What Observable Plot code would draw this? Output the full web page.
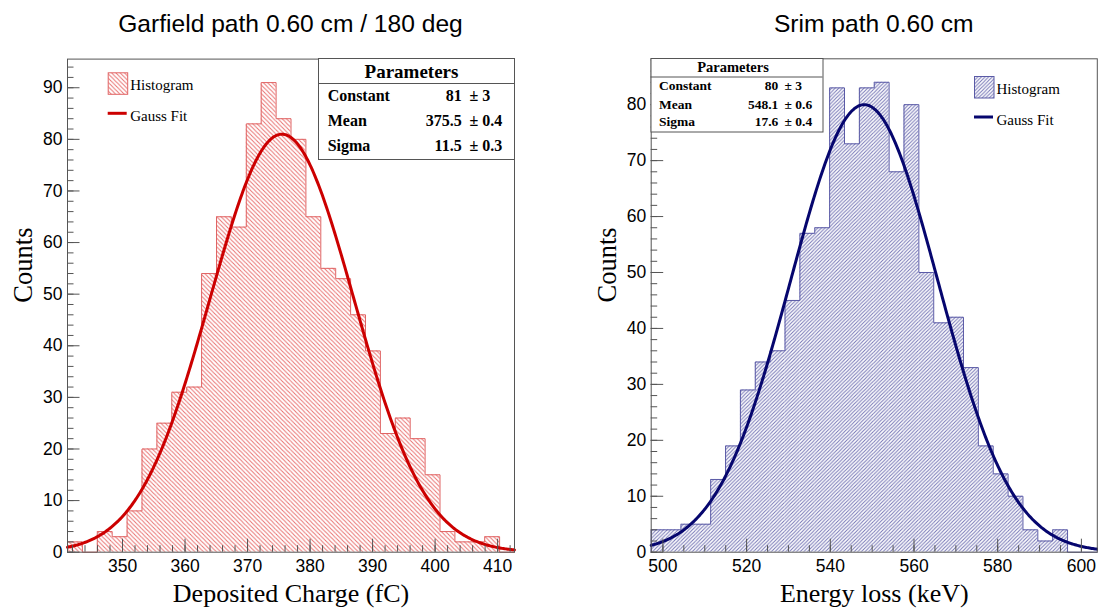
<!DOCTYPE html>
<html>
<head>
<meta charset="utf-8">
<script src="https://cdn.jsdelivr.net/npm/d3@7"></script>
<script src="https://cdn.jsdelivr.net/npm/@observablehq/plot@0.6"></script>
<style>
  html, body { margin: 0; padding: 0; background: #fff; }
  #wrap { position: relative; width: 1098px; height: 610px; overflow: hidden; background: #fff; }
  .panel { position: absolute; top: 0; }
  .panel svg { overflow: visible; }
</style>
</head>
<body>
<div id="wrap">
  <div class="panel" id="left" style="left:0px"></div>
  <div class="panel" id="right" style="left:549px"></div>
</div>
<script>
// ---------------- DATA ----------------
const titles = ["Garfield path 0.60 cm / 180 deg", "Srim path 0.60 cm"];
const xTitles = ["Deposited Charge (fC)", "Energy loss (keV)"];
const yTitle = "Counts";

// Garfield histogram (30 bins)
const garfieldRange = [341.2, 412.7];
const garfieldCounts = [2, 0, 4, 3, 8, 20, 25, 31, 32, 54, 65, 63, 83, 91, 84, 80, 65, 55, 53, 46, 39, 23, 26, 22, 15, 4, 2, 2, 3, 0];
const garfieldYMax = 95.55;
const garfieldXTicks = [350, 360, 370, 380, 390, 400, 410];
const garfieldYTicks = [0, 10, 20, 30, 40, 50, 60, 70, 80, 90];

// Srim histogram (30 bins)
const srimRange = [497.2, 603.8];
const srimCounts = [4, 4, 5, 5, 13, 19, 29, 34, 36, 45, 57, 58, 83, 73, 83, 84, 68, 80, 50, 41, 42, 33, 19, 14, 10, 4, 2, 4, 0, 0];
const srimYMax = 88.2;
const srimXTicks = [500, 520, 540, 560, 580, 600];
const srimYTicks = [0, 10, 20, 30, 40, 50, 60, 70, 80];

// Fit parameters
const fitNames = ["Constant", "Mean", "Sigma"];
const garfieldFitValues = [81, 375.5, 11.5];
const garfieldFitText = ["81", "375.5", "11.5"];
const garfieldFitErrors = ["3", "0.4", "0.3"];
const srimFitValues = [80, 548.1, 17.6];
const srimFitText = ["80", "548.1", "17.6"];
const srimFitErrors = ["3", "0.6", "0.4"];

const legendLabels = ["Histogram", "Gauss Fit"];

// ---------------- STYLE ----------------
const SANS = '"Liberation Sans", Arial, Helvetica, sans-serif';
const SERIF = '"Liberation Serif", "Times New Roman", Times, serif';
const AXIS = "#555";

function hatchPattern(defs, id, size, dir, color) {
  const p = defs.append("pattern").attr("id", id).attr("patternUnits", "userSpaceOnUse")
    .attr("width", size).attr("height", size);
  const s = size, q = s / 4;
  const d = dir === "back"
    ? `M0,0L${s},${s}M${-q},${3*q}L${q},${5*q}M${3*q},${-q}L${5*q},${q}`
    : `M0,${s}L${s},0M${-q},${q}L${q},${-q}M${3*q},${5*q}L${5*q},${3*q}`;
  p.append("path").attr("d", d).attr("stroke", color).attr("stroke-width", 1).attr("fill", "none");
}

function panel(cfg) {
  const nb = cfg.counts.length;
  const bw = (cfg.range[1] - cfg.range[0]) / nb;
  const bins = cfg.counts.map((c, i) => ({x1: cfg.range[0] + i * bw, x2: cfg.range[0] + (i + 1) * bw, count: c}));
  const outline = [{x: bins[0].x1, y: 0}];
  bins.forEach(b => { outline.push({x: b.x1, y: b.count}); outline.push({x: b.x2, y: b.count}); });
  outline.push({x: bins[nb - 1].x2, y: 0});
  const [A, mu, sg] = cfg.fit;
  const curve = d3.range(0, 401).map(k => {
    const x = cfg.range[0] + k * (cfg.range[1] - cfg.range[0]) / 400;
    return {x, y: A * Math.exp(-0.5 * ((x - mu) / sg) ** 2)};
  });
  const plotW = cfg.width - cfg.ml - cfg.mr;
  const plotH = cfg.height - cfg.mt - cfg.mb;
  const inDom = v => v >= cfg.range[0] - 1e-9 && v <= cfg.range[1] + 1e-9;
  const xMinor = d3.range(Math.ceil(cfg.range[0] / cfg.xMinorStep) * cfg.xMinorStep, cfg.range[1] + 1e-9, cfg.xMinorStep).filter(inDom);
  const yMinor = d3.range(0, cfg.yMax, 2);

  const svg = Plot.plot({
    width: cfg.width, height: cfg.height,
    marginLeft: cfg.ml, marginRight: cfg.mr, marginTop: cfg.mt, marginBottom: cfg.mb,
    x: {type: "linear", domain: cfg.range},
    y: {type: "linear", domain: [0, cfg.yMax]},
    style: {fontFamily: SANS, fontSize: "17.5px", background: "transparent", color: "#000", overflow: "visible"},
    marks: [
      Plot.rectY(bins, {x1: "x1", x2: "x2", y: "count", fill: `url(#${cfg.patId})`}),
      Plot.line(outline, {x: "x", y: "y", stroke: cfg.outline, strokeWidth: 1, curve: "linear"}),
      Plot.line(curve, {x: "x", y: "y", stroke: cfg.fitColor, strokeWidth: 3}),
      Plot.tickX(xMinor, {x: d => d, insetTop: plotH - 6.5, stroke: AXIS, strokeWidth: 1}),
      Plot.tickX(cfg.xTicks, {x: d => d, insetTop: plotH - 13, stroke: AXIS, strokeWidth: 1}),
      Plot.tickY(yMinor, {y: d => d, insetRight: plotW - 6.5, stroke: AXIS, strokeWidth: 1}),
      Plot.tickY(cfg.yTicks, {y: d => d, insetRight: plotW - 12.5, stroke: AXIS, strokeWidth: 1}),
      Plot.frame({stroke: AXIS, strokeWidth: 1}),
      Plot.axisX(cfg.xTicks, {anchor: "bottom", tickSize: 0, tickPadding: 7, label: null, fontSize: 17.5, tickFormat: d => String(d)}),
      Plot.axisY(cfg.yTicks, {anchor: "left", tickSize: 0, tickPadding: 5, label: null, fontSize: 17.5, tickFormat: d => String(d)}),
      Plot.text([cfg.xTitle], {frameAnchor: "bottom", lineAnchor: "top", dy: 31, text: d => d,
        fontFamily: SERIF, fontSize: 26, fill: "#000"}),
      Plot.text([yTitle], {frameAnchor: "left", lineAnchor: "top", rotate: -90, dx: -54, dy: -3, text: d => d,
        fontFamily: SERIF, fontSize: 26.5, fill: "#000"})
    ]
  });
  const defs = d3.select(svg).insert("defs", ":first-child");
  hatchPattern(defs, cfg.patId, cfg.patSize, cfg.patDir, cfg.hatch);
  document.getElementById(cfg.el).appendChild(svg);
}

panel({
  el: "left", width: 549, height: 610, ml: 67, mr: 35, mt: 58.6, mb: 58.3,
  range: garfieldRange, counts: garfieldCounts, yMax: garfieldYMax,
  xTicks: garfieldXTicks, yTicks: garfieldYTicks, xMinorStep: 2,
  fit: garfieldFitValues, xTitle: xTitles[0],
  patId: "hatchRed", patSize: 4.3, patDir: "back", hatch: "#e8706f", outline: "#e06464", fitColor: "#cc0000"
});
panel({
  el: "right", width: 549, height: 610, ml: 101.7, mr: 1.2, mt: 58.3, mb: 58.3,
  range: srimRange, counts: srimCounts, yMax: srimYMax,
  xTicks: srimXTicks, yTicks: srimYTicks, xMinorStep: 5,
  fit: srimFitValues, xTitle: xTitles[1],
  patId: "hatchBlue", patSize: 3.6, patDir: "fwd", hatch: "#7575b5", outline: "#5a5aa6", fitColor: "#06066e"
});

// ---------------- OVERLAY: titles, legends, stats boxes ----------------
const ov = d3.select("#wrap").append("svg")
  .attr("width", 1098).attr("height", 610)
  .style("position", "absolute").style("left", "0px").style("top", "0px");
const odefs = ov.append("defs");
hatchPattern(odefs, "hatchRedLeg", 4.3, "back", "#e8706f");
hatchPattern(odefs, "hatchBlueLeg", 3.6, "fwd", "#7575b5");

[[290.5, titles[0]], [873.7, titles[1]]].forEach(([x, t]) => {
  ov.append("text").attr("x", x).attr("y", 31.7).attr("text-anchor", "middle")
    .style("font-family", SANS).style("font-size", "24.6px").attr("fill", "#000").text(t);
});

function legend(o) {
  ov.append("rect").attr("x", o.x + 0.5).attr("y", o.y + 0.5).attr("width", 19.5).attr("height", 21.5)
    .attr("fill", `url(#${o.pat})`).attr("stroke", o.outline).attr("stroke-width", 1);
  ov.append("text").attr("x", o.x + 22.5).attr("y", o.y + 17.7).style("font-family", SERIF)
    .style("font-size", "15px").attr("fill", "#000").text(legendLabels[0]);
  ov.append("line").attr("x1", o.x).attr("x2", o.x + 19).attr("y1", o.y + 41).attr("y2", o.y + 41)
    .attr("stroke", o.fit).attr("stroke-width", 3);
  ov.append("text").attr("x", o.x + 22.5).attr("y", o.y + 48.5).style("font-family", SERIF)
    .style("font-size", "15px").attr("fill", "#000").text(legendLabels[1]);
}
legend({x: 107.7, y: 72.3, pat: "hatchRedLeg", outline: "#e06464", fit: "#cc0000"});
legend({x: 974, y: 76, pat: "hatchBlueLeg", outline: "#5a5aa6", fit: "#06066e"});

function stats(o) {
  ov.append("rect").attr("x", o.x0 + 0.5).attr("y", o.y0 + 0.5).attr("width", o.x1 - o.x0).attr("height", o.y1 - o.y0)
    .attr("fill", "#fff").attr("stroke", AXIS).attr("stroke-width", 1);
  ov.append("line").attr("x1", o.x0).attr("x2", o.x1).attr("y1", o.sep + 0.5).attr("y2", o.sep + 0.5)
    .attr("stroke", AXIS).attr("stroke-width", 1);
  ov.append("text").attr("x", o.hx).attr("y", o.hy).attr("text-anchor", "middle")
    .style("font-family", SERIF).style("font-weight", "bold").style("font-size", o.hfs + "px").attr("fill", "#000").text("Parameters");
  fitNames.forEach((n, i) => {
    const y = o.rows[i];
    const g = ov.append("g").style("font-family", SERIF).style("font-weight", "bold").style("font-size", o.fs + "px").attr("fill", "#000");
    g.append("text").attr("x", o.nx).attr("y", y).text(n);
    g.append("text").attr("x", o.vx).attr("y", y).attr("text-anchor", "end").text(o.vals[i]);
    g.append("text").attr("x", o.ex).attr("y", y).text("\u00b1 " + o.errs[i]);
  });
}
stats({x0: 318, y0: 58, x1: 514, y1: 159, sep: 83, hx: 411.5, hy: 78, hfs: 19, fs: 16,
  rows: [101, 126, 150.5], nx: 327.7, vx: 461.7, ex: 469.5, vals: garfieldFitText, errs: garfieldFitErrors});
stats({x0: 650.5, y0: 58, x1: 822.5, y1: 131.5, sep: 76.5, hx: 733, hy: 72, hfs: 14.5, fs: 13.5,
  rows: [90.3, 108.5, 126.3], nx: 659, vx: 778.3, ex: 784.5, vals: srimFitText, errs: srimFitErrors});
</script>
</body>
</html>
